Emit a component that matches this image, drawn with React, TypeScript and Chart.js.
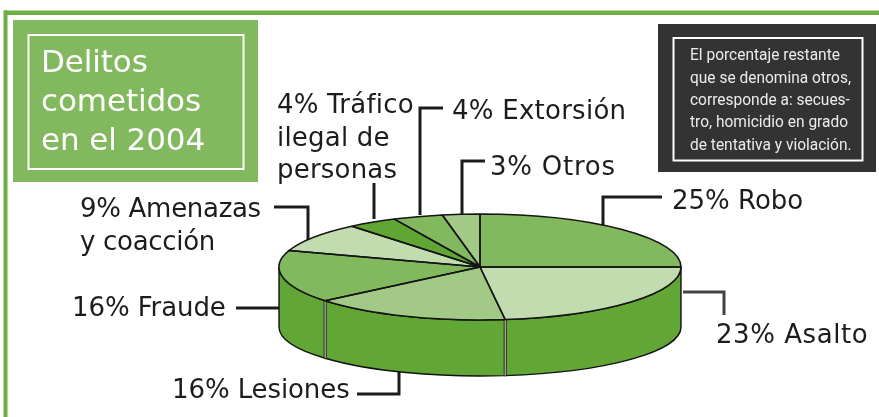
import React, { useEffect, useRef } from "react";
import { Chart, registerables } from "chart.js";

Chart.register(...registerables);

const categories = ["Robo", "Asalto", "Lesiones", "Fraude", "Amenazas y coacción", "Tráfico ilegal de personas", "Extorsión", "Otros"];
const shares = [25, 23, 16, 16, 9, 4, 4, 3];
const sliceColors = ["#82B85E", "#C1DCAE", "#A3C987", "#82B85E", "#C1DCAE", "#60A635", "#82B85E", "#A3C987"];
const titleLines = ["Delitos", "cometidos", "en el 2004"];
const noteLines = [
  "El porcentaje restante",
  "que se denomina otros,",
  "corresponde a: secues-",
  "tro, homicidio en grado",
  "de tentativa y violación.",
];
const robo = ["25% Robo"];
const asalto = ["23% Asalto"];
const lesiones = ["16% Lesiones"];
const fraude = ["16% Fraude"];
const amenazas = ["9% Amenazas", "y coacción"];
const trafico = ["4% Tráfico", "ilegal de", "personas"];
const extorsion = ["4% Extorsión"];
const otros = ["3% Otros"];

const W = 879;
const H = 417;
const PIE_CY = 267;
const PIE_RY = 53;
const WALL_DROP = 60;
const WALL_RY = 49;
const WALL_COLOR = "#62A635";
const INK = "#1c1c1c";
const LABEL_FONT = '26px "DejaVu Sans"';

type Lbl = { lines: string[]; x: number; ys: number[]; ls: number };
const labelLayout: Lbl[] = [
  { lines: robo, x: 672, ys: [209], ls: 0 },
  { lines: asalto, x: 716, ys: [343], ls: 0.55 },
  { lines: lesiones, x: 172, ys: [398], ls: -0.1 },
  { lines: fraude, x: 72, ys: [316], ls: -0.1 },
  { lines: amenazas, x: 80, ys: [217, 250], ls: -0.3 },
  { lines: trafico, x: 277, ys: [113, 146, 178], ls: 0.2 },
  { lines: extorsion, x: 452, ys: [119], ls: 0.25 },
  { lines: otros, x: 490, ys: [175], ls: 0.75 },
];

const leaders: [number, number][][] = [
  [[662, 197], [603, 197], [603, 225]],
  [[485, 161], [462, 161], [462, 214]],
  [[443, 108], [420, 108], [420, 215]],
  [[374, 183], [374, 219]],
  [[274, 207], [308, 207], [308, 240]],
  [[236, 308], [279, 308]],
  [[357, 394], [399, 394], [399, 372]],
];
const asaltoLeader: [number, number][] = [[683, 292], [724, 292], [724, 315]];

function polyline(ctx: CanvasRenderingContext2D, pts: [number, number][]) {
  ctx.beginPath();
  pts.forEach((p, i) => (i ? ctx.lineTo(p[0], p[1]) : ctx.moveTo(p[0], p[1])));
  ctx.stroke();
}

const scenePlugin = {
  id: "scene3d",
  beforeDatasetsDraw(chart: any) {
    const ctx: CanvasRenderingContext2D = chart.ctx;
    ctx.save();
    // frame
    ctx.fillStyle = "#6EAE44";
    ctx.fillRect(4, 10.5, W - 4, 4.5);
    ctx.fillRect(3.5, 10.5, 4, H - 10);
    // title panel
    ctx.fillStyle = "#82B85E";
    ctx.fillRect(13, 20, 245, 162);
    ctx.strokeStyle = "#fff";
    ctx.lineWidth = 2;
    ctx.strokeRect(28.5, 35, 215, 134);
    ctx.fillStyle = "#fff";
    ctx.font = '31px "DejaVu Sans"';
    ctx.textBaseline = "alphabetic";
    (ctx as any).letterSpacing = "-0.1px";
    [72, 111, 150].forEach((y, i) => ctx.fillText(titleLines[i], 41, y));
    // note panel
    ctx.fillStyle = "#333333";
    ctx.fillRect(658, 24, 218, 148);
    ctx.strokeRect(673.5, 38, 189, 122.5);
    ctx.fillStyle = "#ececec";
    ctx.font = '17px Roboto';
    (ctx as any).letterSpacing = "0px";
    const lineWidth = ctx.measureText(noteLines[1]).width;
    const squeeze = 161 / lineWidth;
    [60, 82.5, 105, 127, 149.5].forEach((y, i) => {
      ctx.save();
      ctx.translate(690, y);
      ctx.scale(squeeze, 1);
      ctx.fillText(noteLines[i], 0, 0);
      ctx.restore();
    });
    // labels
    ctx.fillStyle = "#1c1c1c";
    ctx.font = LABEL_FONT;
    labelLayout.forEach((l) => {
      (ctx as any).letterSpacing = `${l.ls}px`;
      l.lines.forEach((t, i) => ctx.fillText(t, l.x, l.ys[i]));
    });
    (ctx as any).letterSpacing = "0px";
    // leaders
    ctx.strokeStyle = INK;
    ctx.lineWidth = 3;
    ctx.lineJoin = "miter";
    leaders.forEach((p) => polyline(ctx, p));
    ctx.strokeStyle = "#444";
    polyline(ctx, asaltoLeader);

    // side walls of the slices facing the viewer
    const arcs = chart.getDatasetMeta(0).data;
    ctx.lineWidth = 1.4;
    ctx.strokeStyle = "#111";
    arcs.forEach((a: any) => {
      const from = Math.max(a.startAngle, 0);
      const to = Math.min(a.endAngle, Math.PI);
      if (to <= from) return;
      ctx.beginPath();
      ctx.ellipse(a.x, PIE_CY, a.outerRadius, PIE_RY, 0, from, to);
      ctx.ellipse(a.x, PIE_CY + WALL_DROP, a.outerRadius, WALL_RY, 0, to, from, true);
      ctx.closePath();
      ctx.fillStyle = WALL_COLOR;
      ctx.fill();
      ctx.stroke();
    });
    // seams between walls
    arcs.forEach((a: any) => {
      const e = a.endAngle;
      if (e <= 0 || e >= Math.PI) return;
      const x = a.x + a.outerRadius * Math.cos(e);
      const seam: [number, number][] = [
        [x, PIE_CY + PIE_RY * Math.sin(e)],
        [x, PIE_CY + WALL_DROP + WALL_RY * Math.sin(e)],
      ];
      ctx.strokeStyle = "#1a1a1a";
      ctx.lineWidth = 3;
      polyline(ctx, seam);
      ctx.strokeStyle = "#dfe9d6";
      ctx.lineWidth = 1;
      polyline(ctx, seam);
    });
    ctx.restore();
  },
  beforeDatasetDraw(chart: any) {
    const ctx: CanvasRenderingContext2D = chart.ctx;
    const a = chart.getDatasetMeta(0).data[0];
    ctx.save();
    ctx.translate(a.x, PIE_CY);
    ctx.scale(1, PIE_RY / a.outerRadius);
    ctx.translate(-a.x, -a.y);
  },
  afterDatasetDraw(chart: any) {
    const ctx: CanvasRenderingContext2D = chart.ctx;
    ctx.restore();
    // slice outlines, stroked without the vertical squash so the pen stays even
    const arcs = chart.getDatasetMeta(0).data;
    ctx.save();
    ctx.strokeStyle = "#151515";
    ctx.lineWidth = 1.5;
    ctx.lineJoin = "round";
    arcs.forEach((a: any) => {
      ctx.beginPath();
      ctx.moveTo(a.x, PIE_CY);
      ctx.ellipse(a.x, PIE_CY, a.outerRadius, PIE_RY, 0, a.startAngle, a.endAngle);
      ctx.closePath();
      ctx.stroke();
    });
    ctx.restore();
  },
};

export default function App() {
  const ref = useRef<HTMLCanvasElement>(null);
  useEffect(() => {
    document.body.style.margin = "0";
    document.body.style.background = "#fff";
    const chart = new Chart(ref.current!, {
      type: "pie",
      data: {
        labels: categories,
        datasets: [{ data: shares, backgroundColor: sliceColors, borderWidth: 0, hoverOffset: 0 } as any],
      },
      options: {
        responsive: false,
        animation: false,
        rotation: 0,
        layout: { padding: { left: 279, right: 198, top: 7, bottom: 8 } },
        plugins: { legend: { display: false }, tooltip: { enabled: false }, title: { display: false } },
      },
      plugins: [scenePlugin],
    } as any);
    return () => chart.destroy();
  }, []);
  return <canvas ref={ref} width={W} height={H} style={{ display: "block", width: W, height: H }} />;
}
